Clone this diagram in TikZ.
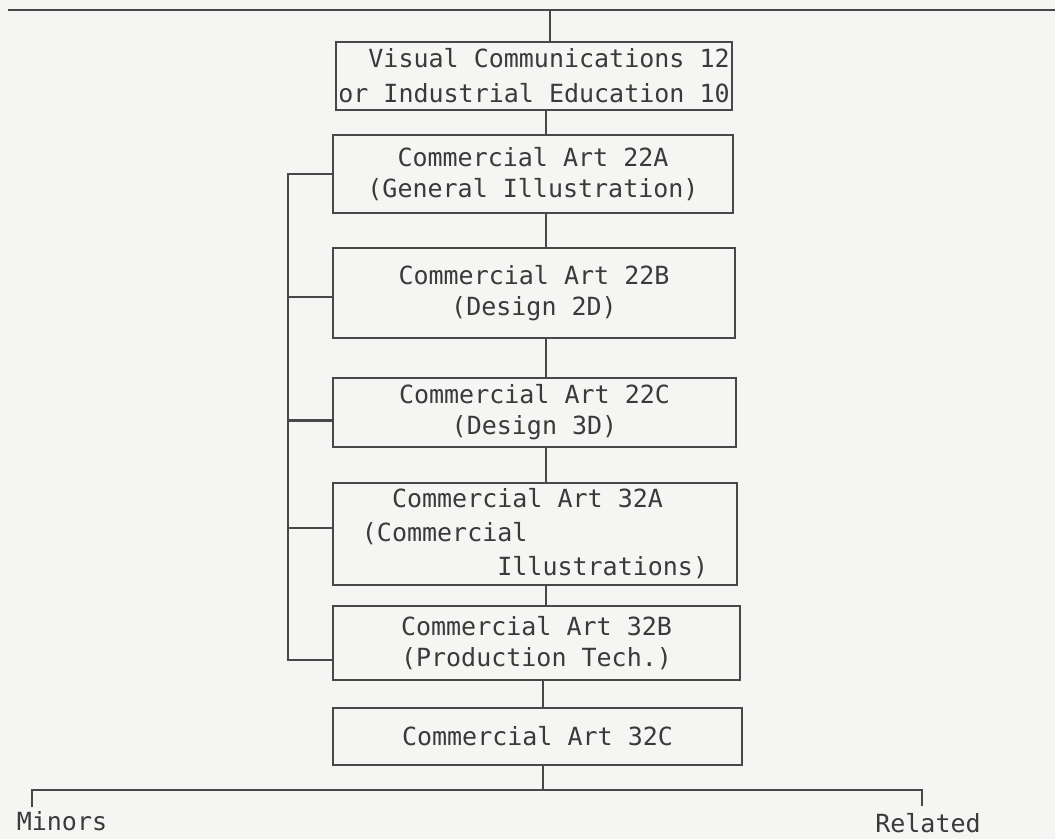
\documentclass[tikz,border=0pt]{standalone}
\usepackage{fontspec}
\setmonofont{DejaVu Sans Mono}
\usetikzlibrary{positioning,calc}
\usepackage{xcolor}
\definecolor{paper}{HTML}{F5F5F3}
\definecolor{ink}{HTML}{484848}
\definecolor{type}{HTML}{3A3A3A}
\tikzset{
  course/.style={draw=ink, line width=2.8pt, align=center, inner sep=0pt, text=type,
    font=\ttfamily\fontsize{25}{31}\selectfont},
  label/.style={inner sep=0pt, text depth=0pt, anchor=base, text=type, font=\ttfamily\fontsize{25}{31}\selectfont},
  link/.style={draw=ink, line width=2.8pt}
}

\begin{document}
\begin{tikzpicture}[x=1pt, y=-1pt]
  \fill[paper] (0,0) rectangle (1055,839);
  \useasboundingbox (0,0) rectangle (1055,839);
  % course sequence
  \node[course, align=right, minimum width=396pt, minimum height=68pt, font=\ttfamily\fontsize{25}{35}\selectfont] (vc) at (534,76)
    {Visual Communications 12\\or Industrial Education 10};
  \node[course, minimum width=400pt, minimum height=78pt] (caA) at (533,174) {Commercial Art 22A\\(General Illustration)};
  \node[course, minimum width=402pt, minimum height=90pt] (caB) at (534,293) {Commercial Art 22B\\(Design 2D)};
  \node[course, minimum width=403pt, minimum height=69pt] (caC) at (534.5,412.5) {Commercial Art 22C\\(Design 3D)};
  \node[course, align=left, minimum width=404pt, minimum height=102pt, font=\ttfamily\fontsize{25}{34}\selectfont] (cbA) at (535,534)
    {~~Commercial Art 32A\\(Commercial\\~~~~~~~~~Illustrations)};
  \node[course, minimum width=407pt, minimum height=74pt] (cbB) at (536.5,643) {Commercial Art 32B\\(Production Tech.)};
  \node[course, minimum width=409pt, minimum height=57pt] (cbC) at (537.5,736.5) {Commercial Art 32C};
  \node[label] (minors) at (62,830) {Minors};
  \node[label] (related) at (928,832) {Related};

  \coordinate (trunk) at (546,0);
  \coordinate (spine) at (288,0);
  \coordinate (topL) at (8,10);
  \coordinate (topR) at (1055,10);
  \coordinate (botJ) at (543,790);

  % top rule and chain
  \draw[link] (topL) -- (topR);
  \draw[link] (vc.north -| 550,0) -- (550,10);
  \draw[link] (vc.south -| trunk) -- (caA.north -| trunk);
  \draw[link] (caA.south -| trunk) -- (caB.north -| trunk);
  \draw[link] (caB.south -| trunk) -- (caC.north -| trunk);
  \draw[link] (caC.south -| trunk) -- (cbA.north -| trunk);
  \draw[link] (cbA.south -| trunk) -- (cbB.north -| trunk);
  \draw[link] (cbB.south -| botJ) -- (cbC.north -| botJ);
  % bracket on the left
  \draw[link] (caA.west) -- (caA.west -| spine) -- ($(cbB.west -| spine)+(0,17)$) -- ($(cbB.west)+(0,17)$);
  \draw[link] ($(caB.west -| spine)+(0,4)$) -- ($(caB.west)+(0,4)$);
  \draw[link] ($(caC.west -| spine)+(0,8)$) -- ($(caC.west)+(0,8)$);
  \draw[link] ($(cbA.west -| spine)+(0,-6)$) -- ($(cbA.west)+(0,-6)$);
  % split at the bottom
  \draw[link] (cbC.south -| botJ) -- (botJ);
  \draw[link] (32,807) -- (32,790) -- (922,790) -- (922,806);
\end{tikzpicture}
\end{document}
